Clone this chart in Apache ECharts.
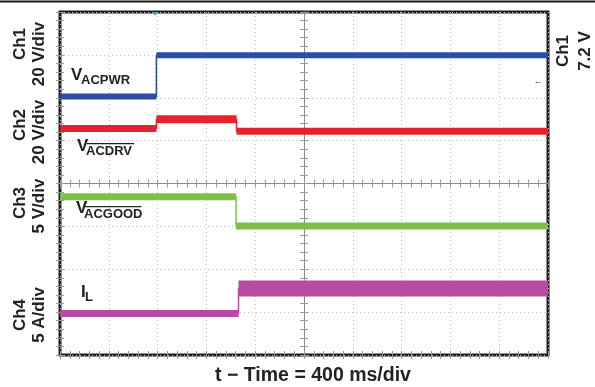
<!DOCTYPE html>
<html><head><meta charset="utf-8">
<script src="https://cdn.jsdelivr.net/npm/echarts@6/dist/echarts.min.js"></script>
<style>html,body{margin:0;padding:0;background:#fff}#c{width:595px;height:387px}</style>
</head><body><div id="c"></div>
<script>
// time in ms (400 ms/div), level in screen divisions (0 = bottom of graticule)
const ch1Time = [0, 790, 4000];
const ch1Level = [6.03, 6.99, 6.99];
const ch2Time = [0, 790, 1447, 4000];
const ch2Level = [5.28, 5.50, 5.22, 5.22];
const ch3Time = [0, 1443, 4000];
const ch3Level = [3.69, 3.01, 3.01];
const ch4Time = [0, 1463, 4000];
const ch4Level = [0.97, 1.55, 1.55];
const channelNames = ['Ch1', 'Ch2', 'Ch3', 'Ch4'];
const channelScales = ['20 V/div', '20 V/div', '5 V/div', '5 A/div'];
const rightLabels = ['Ch1', '7.2 V'];
const timeLabel = 't \u2212 Time = 400 ms/div';
const signalMain = ['V', 'V', 'V', 'I'];
const signalSub = ['ACPWR', 'ACDRV', 'ACGOOD', 'L'];

const zip = (t, v) => t.map((x, i) => [x, v[i]]);
const BOLD = '"Liberation Sans", Arial, sans-serif';

const chart = echarts.init(document.getElementById('c'), null, {renderer: 'canvas'});

const PL = 60, PR = 548, PT = 12, PB = 355;
const tickCol = '#9a9a9a';
function edgeX(pos, extra) {
  return Object.assign({
    type: 'value', min: 0, max: 4000, interval: 400, position: pos,
    axisLine: {show: false},
    axisLabel: {show: false},
    axisTick: {show: true, inside: true, length: 4, lineStyle: {color: tickCol}},
    minorTick: {show: true, splitNumber: 5, length: 4, lineStyle: {color: tickCol}},
    splitLine: {show: false}
  }, extra || {});
}
function edgeY(pos, extra) {
  return Object.assign({
    type: 'value', min: 0, max: 8, interval: 1, position: pos,
    axisLine: {show: false},
    axisLabel: {show: false},
    axisTick: {show: true, inside: true, length: 4, lineStyle: {color: tickCol}},
    minorTick: {show: true, splitNumber: 5, length: 4, lineStyle: {color: tickCol}},
    splitLine: {show: false}
  }, extra || {});
}
const halfH = (PB - PT) / 2, halfW = (PR - PL) / 2;

const xAxes = [
  edgeX('bottom', {splitLine: {show: true, lineStyle: {type: [1, 3], color: '#c4c4c4', width: 1}}}),
  edgeX('top'),
  edgeX('bottom', {offset: -halfH, axisLine: {show: true, lineStyle: {color: '#8a8a8a', width: 1}}}),
  edgeX('bottom', {offset: -halfH, axisTick: {show: true, inside: false, length: 4, lineStyle: {color: tickCol}}})
];
const yAxes = [
  edgeY('left', {splitLine: {show: true, lineStyle: {type: [1, 3], color: '#c4c4c4', width: 1}}}),
  edgeY('right'),
  edgeY('left', {offset: -halfW, axisLine: {show: true, lineStyle: {color: '#8a8a8a', width: 1}}}),
  edgeY('left', {offset: -halfW, axisTick: {show: true, inside: false, length: 4, lineStyle: {color: tickCol}}})
];

// thin step trace (for the edges) + thick horizontal plateaus (noise band)
function stepSeries(data, color) {
  return {
    type: 'line', step: 'end', data: data, symbol: 'none',
    xAxisIndex: 0, yAxisIndex: 0, z: 4, silent: true,
    lineStyle: {color: color, width: 1.5}
  };
}
function plateauSeries(data, color, widths) {
  const out = [];
  for (let i = 0; i < data.length - 1; i++) {
    out.push({
      type: 'line', data: [[data[i][0], data[i][1]], [data[i + 1][0], data[i][1]]],
      symbol: 'none', xAxisIndex: 0, yAxisIndex: 0, z: 5, silent: true,
      lineStyle: {color: color, width: widths[Math.min(i, widths.length - 1)], cap: 'butt'}
    });
  }
  return out;
}
const channels = [
  [zip(ch1Time, ch1Level), '#2a4ea6', [6, 6]],
  [zip(ch2Time, ch2Level), '#e8222c', [7, 8, 7]],
  [zip(ch3Time, ch3Level), '#7dc245', [7, 7]],
  [zip(ch4Time, ch4Level), '#b84aa2', [7, 16]]
];
let series = [];
channels.forEach(c => {
  series.push(stepSeries(c[0], c[1]));
  series = series.concat(plateauSeries(c[0], c[1], c[2]));
});

function txt(text, x, y, size, rot, align, color) {
  return {
    type: 'text', x: x, y: y, rotation: rot || 0, z: 20,
    style: {
      text: text, font: 'bold ' + size + 'px ' + BOLD, fill: color || '#222',
      textAlign: align || 'center', textVerticalAlign: 'middle',
      align: align || 'center', verticalAlign: 'middle'
    }
  };
}
const graphics = [
  {type: 'rect', shape: {x: 0, y: 0.5, width: 595, height: 2}, style: {fill: '#1a1a1a'}, z: 20}
];
const nameY = [44, 125, 203, 315];
const scaleY = [54, 132, 206, 315];
for (let i = 0; i < 4; i++) {
  graphics.push(txt(channelNames[i], 20, nameY[i], 17, Math.PI / 2));
  graphics.push(txt(channelScales[i], 39, scaleY[i], 17, Math.PI / 2));
}
graphics.push(txt(rightLabels[0], 563, 51, 17, Math.PI / 2));
graphics.push(txt(rightLabels[1], 585, 51, 17, Math.PI / 2));
graphics.push(txt(timeLabel, 313, 376, 19.5, 0));

// signal labels: main letter, subscript, optional overline
const mainPos = [[71, 75], [77, 146], [76, 208], [81, 292]];
const subPos = [[81, 80], [86, 151], [84, 214], [85, 297]];
const overline = [false, true, true, false];
for (let i = 0; i < 4; i++) {
  graphics.push(txt(signalMain[i], mainPos[i][0], mainPos[i][1], 17, 0, 'left'));
  graphics.push(txt(signalSub[i], subPos[i][0], subPos[i][1], 13, 0, 'left'));
  if (overline[i]) {
    const w = signalSub[i].length * 9.4;
    graphics.push({type: 'rect', z: 20, shape: {x: subPos[i][0] + 1, y: subPos[i][1] - 8, width: w, height: 1.3}, style: {fill: '#222'}});
  }
}
// trigger marker and Ch1 reference marker
graphics.push(txt('\u25BC', 155, 14, 7, 0, 'center', '#3aa0d8'));
graphics.push(txt('\u2190', 538, 82, 9, 0, 'center', '#2a4ea6'));

chart.setOption({
  animation: false,
  backgroundColor: '#fff',
  grid: {left: PL, right: 595 - PR, top: PT, bottom: 387 - PB, show: true,
         borderColor: '#1e1e1e', borderWidth: 3, backgroundColor: 'transparent'},
  xAxis: xAxes,
  yAxis: yAxes,
  series: series,
  graphic: graphics
});
</script></body></html>
